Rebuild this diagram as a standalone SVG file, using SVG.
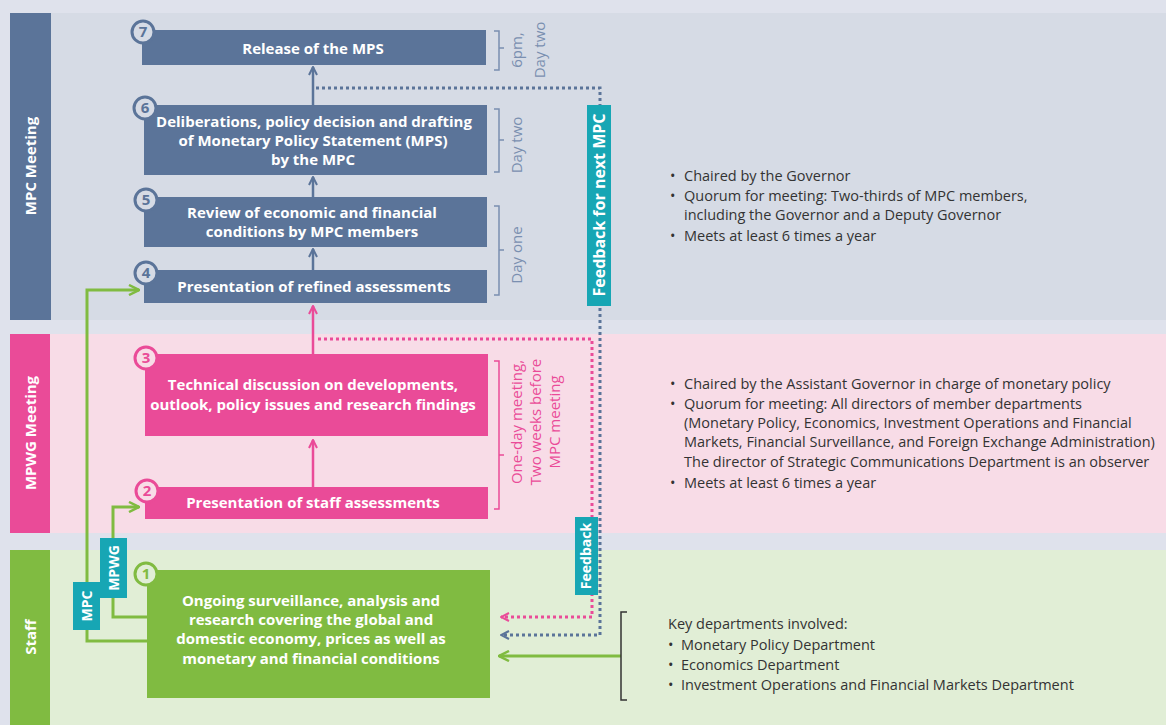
<svg xmlns="http://www.w3.org/2000/svg" width="1166" height="725" viewBox="0 0 1166 725">
<style>
.bt{font-family:"Open Sans","Noto Sans",sans-serif;font-weight:bold;fill:#fff;font-size:15px;text-anchor:middle}
.lab{font-family:"Open Sans","Noto Sans",sans-serif;font-weight:bold;fill:#fff;font-size:15px;text-anchor:middle}
.tag{font-family:"Open Sans","Noto Sans",sans-serif;font-weight:bold;fill:#fff;font-size:14px;text-anchor:middle}
.side{font-family:"Open Sans","Noto Sans",sans-serif;font-size:14.5px;fill:#333}
.num{font-family:"Open Sans","Noto Sans",sans-serif;font-weight:bold;font-size:15px;text-anchor:middle}
.blue{fill:#5b7499}.pink{fill:#ea4b98}.green{fill:#80bb41}.teal{fill:#17a6b4}
.bl{stroke:#5b7499;stroke-width:2.5;fill:none}
.pl{stroke:#ea4b98;stroke-width:2.5;fill:none}
.gl{stroke:#80bb41;stroke-width:3;fill:none}
.bd{stroke:#5b7499;stroke-width:3;fill:none;stroke-dasharray:3 3}
.pd{stroke:#ea4b98;stroke-width:3;fill:none;stroke-dasharray:3 3}
.br{fill:none;stroke-width:1.5}
.per{font-family:"Open Sans","Noto Sans",sans-serif;font-size:15px;text-anchor:middle}
</style>
<defs>
<marker id="ab" viewBox="0 0 10 10" refX="9" refY="5" markerWidth="10" markerHeight="10" markerUnits="userSpaceOnUse" orient="auto"><path d="M1,1 L9,5 L1,9" fill="none" stroke="#5b7499" stroke-width="2"/></marker>
<marker id="ap" viewBox="0 0 10 10" refX="9" refY="5" markerWidth="10" markerHeight="10" markerUnits="userSpaceOnUse" orient="auto"><path d="M1,1 L9,5 L1,9" fill="none" stroke="#ea4b98" stroke-width="2"/></marker>
<marker id="ag" viewBox="0 0 12 12" refX="11" refY="6" markerWidth="12" markerHeight="12" markerUnits="userSpaceOnUse" orient="auto"><path d="M1,1 L11,6 L1,11" fill="none" stroke="#80bb41" stroke-width="2.5"/></marker>
</defs>
<rect width="1166" height="725" fill="#dfe2ec"/>
<g id="bands">
<rect x="10" y="13" width="1156" height="307" fill="#d6dbe5"/>
<rect x="10" y="334" width="1156" height="199" fill="#f8dce7"/>
<rect x="10" y="550" width="1156" height="175" fill="#e1eed6"/>
<rect x="10" y="13" width="41" height="307" class="blue"/>
<rect x="10" y="334" width="40" height="199" class="pink"/>
<rect x="10" y="550" width="40" height="175" class="green"/>
<text class="lab" transform="translate(36,166) rotate(-90)">MPC Meeting</text>
<text class="lab" transform="translate(36,433) rotate(-90)">MPWG Meeting</text>
<text class="lab" transform="translate(36,637) rotate(-90)">Staff</text>
</g>
<g id="connectors">
<line x1="313" y1="105" x2="313" y2="67" class="bl" marker-end="url(#ab)"/>
<line x1="313" y1="197" x2="313" y2="177" class="bl" marker-end="url(#ab)"/>
<line x1="313" y1="270" x2="313" y2="249" class="bl" marker-end="url(#ab)"/>
<line x1="313" y1="354" x2="313" y2="306" class="pl" marker-end="url(#ap)"/>
<line x1="313" y1="487" x2="313" y2="440" class="pl" marker-end="url(#ap)"/>
<polyline points="316,88 600,88 600,635 501,635" class="bd" marker-end="url(#ab)"/>
<polyline points="318,339 592,339 592,617 501,617" class="pd" marker-end="url(#ap)"/>
<polyline points="147,641 87,641 87,290 139,290" class="gl" marker-end="url(#ag)"/>
<polyline points="147,617 113,617 113,507 139,507" class="gl" marker-end="url(#ag)"/>
<line x1="621" y1="656" x2="499" y2="656" class="gl" marker-end="url(#ag)"/>
</g>
<g id="labels">
<rect x="587" y="105" width="24" height="201" class="teal"/>
<text class="tag" style="font-size:16px" transform="translate(605,205) rotate(-90)">Feedback for next MPC</text>
<rect x="575" y="517" width="23" height="78" class="teal"/>
<text class="tag" transform="translate(591,556) rotate(-90)">Feedback</text>
<rect x="73" y="582" width="27" height="48" class="teal"/>
<text class="tag" transform="translate(91.5,606) rotate(-90)">MPC</text>
<rect x="100" y="538" width="27" height="60" class="teal"/>
<text class="tag" transform="translate(118.5,568) rotate(-90)">MPWG</text>
</g>
<g id="node7">
<rect x="142" y="30" width="344" height="35" class="blue"/>
<text class="bt" x="313" y="54">Release of the MPS</text>
<circle cx="143" cy="32" r="11" fill="#d6dbe5" stroke="#5b7499" stroke-width="3"/>
<text class="num" x="143" y="37" fill="#5b7499">7</text>
</g>
<g id="node6">
<rect x="144" y="105" width="343" height="70" class="blue"/>
<text class="bt" x="314" y="127">Deliberations, policy decision and drafting</text>
<text class="bt" x="313" y="146">of Monetary Policy Statement (MPS)</text>
<text class="bt" x="313" y="165">by the MPC</text>
<circle cx="145" cy="108" r="11" fill="#d6dbe5" stroke="#5b7499" stroke-width="3"/>
<text class="num" x="145" y="113" fill="#5b7499">6</text>
</g>
<g id="node5">
<rect x="144" y="197" width="343" height="50" class="blue"/>
<text class="bt" x="312" y="218">Review of economic and financial</text>
<text class="bt" x="312" y="237">conditions by MPC members</text>
<circle cx="146" cy="200" r="11" fill="#d6dbe5" stroke="#5b7499" stroke-width="3"/>
<text class="num" x="146" y="205" fill="#5b7499">5</text>
</g>
<g id="node4">
<rect x="144" y="270" width="343" height="33" class="blue"/>
<text class="bt" x="314" y="292">Presentation of refined assessments</text>
<circle cx="146" cy="273" r="11" fill="#d6dbe5" stroke="#5b7499" stroke-width="3"/>
<text class="num" x="146" y="278" fill="#5b7499">4</text>
</g>
<g id="node3">
<rect x="145" y="354" width="343" height="82" class="pink"/>
<text class="bt" x="313" y="390">Technical discussion on developments,</text>
<text class="bt" x="313" y="410">outlook, policy issues and research findings</text>
<circle cx="146" cy="358" r="11" fill="#f8dce7" stroke="#ea4b98" stroke-width="3"/>
<text class="num" x="146" y="363" fill="#ea4b98">3</text>
</g>
<g id="node2">
<rect x="145" y="487" width="343" height="32" class="pink"/>
<text class="bt" x="313" y="508">Presentation of staff assessments</text>
<circle cx="147" cy="491" r="11" fill="#f8dce7" stroke="#ea4b98" stroke-width="3"/>
<text class="num" x="147" y="496" fill="#ea4b98">2</text>
</g>
<g id="node1">
<rect x="147" y="570" width="343" height="128" class="green"/>
<text class="bt" x="311" y="606">Ongoing surveillance, analysis and</text>
<text class="bt" x="311" y="625">research covering the global and</text>
<text class="bt" x="311" y="644">domestic economy, prices as well as</text>
<text class="bt" x="311" y="664">monetary and financial conditions</text>
<circle cx="146" cy="574" r="11" fill="#e1eed6" stroke="#80bb41" stroke-width="3"/>
<text class="num" x="146" y="579" fill="#80bb41">1</text>
</g>
<g id="brackets">
<path d="M494,31 H499 V48 H504 M499,48 V70 H494" class="br" stroke="#7a8fb0"/>
<text class="per" fill="#7a8fb0" transform="translate(522,50) rotate(-90)">6pm,</text>
<text class="per" fill="#7a8fb0" transform="translate(545,50) rotate(-90)">Day two</text>
<path d="M494,109 H499 V140 H504 M499,140 V172 H494" class="br" stroke="#7a8fb0"/>
<text class="per" fill="#7a8fb0" transform="translate(522,145) rotate(-90)">Day two</text>
<path d="M494,206 H499 V250 H504 M499,250 V295 H494" class="br" stroke="#7a8fb0"/>
<text class="per" fill="#7a8fb0" transform="translate(522,255) rotate(-90)">Day one</text>
<path d="M494,361 H499 V455 H504 M499,455 V509 H494" class="br" stroke="#ea4b98"/>
<text class="per" fill="#ea4b98" transform="translate(522,422) rotate(-90)">One-day meeting,</text>
<text class="per" fill="#ea4b98" transform="translate(541,422) rotate(-90)">Two weeks before</text>
<text class="per" fill="#ea4b98" transform="translate(560,422) rotate(-90)">MPC meeting</text>
<path d="M627,612 H621 V700 H627" class="br" stroke="#333"/>
</g>
<g id="notes" class="side">
<text x="670" y="181">•</text><text x="684" y="181">Chaired by the Governor</text>
<text x="670" y="201">•</text><text x="684" y="201">Quorum for meeting: Two-thirds of MPC members,</text>
<text x="684" y="220">including the Governor and a Deputy Governor</text>
<text x="670" y="241">•</text><text x="684" y="241">Meets at least 6 times a year</text>
<text x="670" y="389">•</text><text x="684" y="389">Chaired by the Assistant Governor in charge of monetary policy</text>
<text x="670" y="409">•</text><text x="684" y="409">Quorum for meeting: All directors of member departments</text>
<text x="684" y="428">(Monetary Policy, Economics, Investment Operations and Financial</text>
<text x="684" y="447">Markets, Financial Surveillance, and Foreign Exchange Administration)</text>
<text x="684" y="467">The director of Strategic Communications Department is an observer</text>
<text x="670" y="488">•</text><text x="684" y="488">Meets at least 6 times a year</text>
<text x="668" y="629">Key departments involved:</text>
<text x="668" y="650">•</text><text x="681" y="650">Monetary Policy Department</text>
<text x="668" y="670">•</text><text x="681" y="670">Economics Department</text>
<text x="668" y="690">•</text><text x="681" y="690">Investment Operations and Financial Markets Department</text>
</g>
</svg>
